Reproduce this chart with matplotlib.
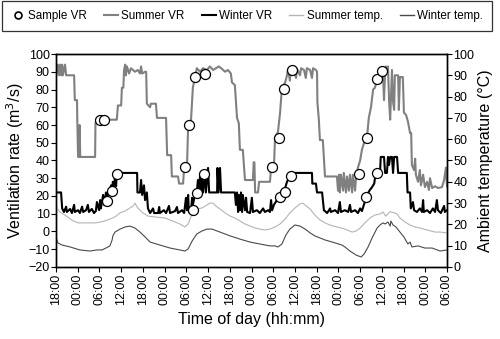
import matplotlib
matplotlib.use("Agg")
import matplotlib.pyplot as plt
from matplotlib.lines import Line2D

plt.rcParams['font.family'] = ['Liberation Sans', 'DejaVu Sans']

# time in hours from 18:00 of first day
tick_hours = list(range(0, 109, 6))
tick_labels = ["18:00", "00:00", "06:00", "12:00"] * 4 + ["18:00", "00:00", "06:00"]

summer_vr_t = [0, 0.5, 0.8, 1.1, 1.4, 1.7, 1.9, 2.5, 2.8, 5.0, 5.2, 5.8, 5.9, 6.1, 6.3, 6.5, 6.7,
               10.8, 10.9, 11.3, 16.8, 17.1, 18.0, 18.2, 18.6, 18.8, 19.1, 19.3, 19.6, 20.2, 20.7,
               21.8, 22.6, 23.2, 23.5, 23.8, 24.6, 24.9, 25.1, 26.0, 26.2, 27.6, 27.9, 30.4, 30.7,
               31.8, 32.0, 33.7, 34.0, 35.1, 35.4, 36.2, 36.5, 37.3, 37.8, 38.4, 38.9, 39.8, 40.6,
               41.7, 42.5, 43.4, 44.2, 45.0, 45.9, 46.7, 47.5, 48.3, 48.6, 49.4, 50.0, 50.5, 50.8,
               51.6, 52.2, 54.4, 54.6, 54.8, 55.0, 55.8, 56.1, 59.1, 59.4, 60.2, 60.5, 61.3, 61.9,
               62.4, 63.3, 63.8, 64.1, 64.6, 64.9, 65.7, 66.3, 66.6, 67.4, 67.7, 68.5, 69.0, 69.3,
               70.2, 70.7, 71.0, 71.8, 72.1, 72.2, 72.6, 72.9, 73.7, 74.3, 77.6, 77.9, 78.2, 78.4,
               78.7, 79.3, 79.5, 80.1, 80.4, 80.9, 81.2, 81.8, 82.0, 82.6, 82.9, 83.4, 84.0, 84.5,
               85.1, 85.9, 86.4, 87.0, 87.6, 88.1, 88.7, 89.2, 89.5, 90.0, 90.3, 90.6, 90.9, 91.1,
               91.4, 91.7, 92.0, 92.3, 92.5, 92.8, 93.1, 93.4, 93.6, 94.5, 94.7, 95.0, 95.8, 96.1,
               96.7, 97.2, 97.8, 98.1, 98.3, 98.9, 99.2, 99.4, 100.0, 100.5, 100.8, 101.4, 101.9,
               102.5, 103.0, 103.3, 103.9, 104.7, 105.5, 106.6, 107.2, 107.7, 108]
summer_vr = [88, 94, 88, 94, 88, 94, 88, 94, 88, 88, 74, 74, 61, 42, 42, 60, 42,
             42, 61, 63, 63, 71, 71, 81, 81, 91, 94, 88, 93, 89, 92,
             90, 91, 89, 93, 89, 90, 90, 72, 70, 72, 72, 64, 64, 43,
             43, 31, 31, 27, 27, 36, 37.5, 60, 63, 81, 87, 92, 90, 92,
             91, 93, 91, 92, 93, 91.5, 90, 91, 89, 84, 82.5, 64, 61, 46,
             46, 29, 29, 39, 39, 22, 22, 28, 28, 36, 36, 53, 56, 67,
             81, 84, 88, 91.5, 85, 92, 91, 86.5, 91.5, 88, 92, 91, 86.5, 92,
             91, 86.5, 92, 91, 90, 73, 63, 51.5, 51.5, 31, 31, 23, 32, 22,
             32, 23, 33, 22, 31, 23, 32, 22, 32, 23, 31, 36, 40, 46,
             50, 53, 64, 70, 80, 81, 86, 88, 91, 92, 90, 74, 90, 93,
             92, 93, 74, 63, 74, 91, 73, 68.5, 88, 88, 68.5, 87, 87, 67,
             65.6, 62, 55.5, 55.5, 37.5, 34.6, 41, 32, 28, 34.6, 26, 32, 25,
             28, 23.4, 30, 24.5, 25.5, 24.5, 25, 29, 36, 25.5]

winter_vr_t = [0, 1.4, 1.7, 2.2, 2.8, 3.0, 3.9, 4.4, 5.0, 5.2, 6.1, 6.6, 7.2, 7.5, 8.3, 8.8, 9.1,
               9.9, 10.5, 11.0, 11.3, 11.9, 12.2, 12.4, 13.0, 13.3, 13.8, 14.1, 14.4, 14.9, 15.2,
               15.5, 15.7, 16.0, 16.3, 16.6, 16.8, 22.4, 22.5, 23.2, 23.5, 23.8, 24.3, 24.6, 25.1,
               25.4, 26.0, 26.8, 27.1, 28.2, 28.5, 28.7, 29.8, 30.4, 31.2, 31.5, 32.9, 33.4, 33.7,
               34.8, 35.4, 35.9, 36.2, 36.5, 36.7, 37.3, 37.6, 37.8, 38.4, 38.9, 39.2, 39.5, 39.8,
               40.0, 40.3, 40.6, 41.2, 41.4, 42.0, 42.3, 44.5, 44.6, 44.9, 45.3, 45.6, 49.4, 49.7,
               50.0, 50.3, 50.5, 50.8, 51.1, 51.4, 51.6, 52.2, 52.5, 52.8, 53.6, 54.1, 54.4, 55.5,
               56.3, 57.2, 57.7, 58.6, 59.1, 59.4, 59.7, 60.2, 61.0, 61.9, 62.7, 63.3, 63.8, 64.6,
               65.2, 65.5, 70.7, 70.8, 71.8, 72.1, 73.5, 74.0, 74.9, 75.7, 75.9, 77.1, 77.9, 78.4,
               78.7, 79.8, 80.7, 81.2, 81.5, 82.6, 83.4, 84.0, 84.5, 85.3, 85.9, 86.2, 86.7, 87.3,
               87.9, 88.1, 88.9, 89.5, 89.7, 90.6, 90.9, 91.4, 91.7, 92.0, 92.3, 92.8, 93.1, 93.4,
               94.2, 94.5, 96.9, 97.1, 97.8, 98.0, 98.6, 98.9, 99.7, 100.5, 101.1, 101.4, 101.6,
               102.5, 103.3, 104.1, 104.7, 105.2, 105.5, 106.3, 107.2, 107.4, 108]
winter_vr = [22, 22, 13, 11, 14, 11, 12.7, 10.4, 15, 11, 12, 10.4, 14, 11, 12, 15, 11,
             12.7, 10.4, 11.5, 16.6, 12, 17.7, 13, 20.6, 15, 22, 17.7, 22, 23.4, 26,
             20, 28, 24.5, 31, 25.6, 33, 33, 22, 22, 29, 20.6, 26, 17.7, 22,
             13, 10.4, 13, 10.4, 10.4, 13.8, 10.4, 12, 10.4, 14.4, 10.4, 11.5, 13.8, 10.4,
             12, 10.4, 19, 12, 20.6, 11, 12, 19, 15, 20.6, 22, 29, 22, 32,
             23.4, 30, 22, 33, 22, 35.8, 22, 22, 35.8, 22, 35.8, 22, 22, 15,
             22, 11, 20.6, 12, 22, 11, 20.6, 12, 19, 11, 10.4, 19, 11, 12,
             10.4, 13, 11, 12, 11, 17.7, 12, 15, 17.7, 21.7, 23.4, 24.5, 28, 31,
             32, 33, 33, 27, 27, 22, 22, 12, 10.4, 13, 11, 12, 10.4, 16.6,
             11, 12, 11, 15, 11, 12, 10.4, 13, 11.5, 16.6, 20.6, 21.7, 23.4, 25,
             27, 30, 33, 33, 42, 42, 33, 33, 42, 37.5, 42, 42, 33, 42,
             42, 33, 33, 22, 22, 13, 16.6, 12, 11, 13, 11, 17.7, 11,
             12, 10.4, 13, 11, 17.7, 12, 10.4, 14.4, 11, 12]

summer_temp_t = [0, 1.1, 2.8, 4.4, 6.1, 8.0, 10.8, 12.2, 13.5, 14.9, 16.3, 17.7, 19.1, 20.4, 21.3,
                 21.8, 22.1, 22.6, 24.0, 25.4, 27.3, 30.1, 32.9, 34.2, 35.6, 36.5, 37.6, 38.9, 40.3,
                 41.7, 42.5, 43.4, 44.2, 45.3, 46.7, 48.1, 49.4, 50.8, 52.2, 53.6, 55.0, 56.3, 57.7,
                 59.1, 60.5, 61.9, 63.3, 64.6, 66.0, 67.4, 68.2, 68.8, 70.2, 71.5, 72.9, 74.3, 75.7,
                 77.6, 79.8, 81.8, 82.9, 84.0, 85.3, 86.7, 88.1, 89.5, 90.3, 91.1, 92.3, 93.4, 94.2,
                 95.0, 96.4, 97.8, 99.2, 100.5, 102.5, 104.7, 106.1, 108]
summer_temp = [28.2, 25.8, 24, 22, 20.7, 20.7, 20.7, 21.1, 21.6, 22.5, 23.5, 25.4, 26.3, 27.7, 28.6,
               30, 29.1, 27.7, 25.4, 23.9, 23.5, 23, 21.1, 20.2, 18.8, 20.2, 24.9, 27.2, 27.7,
               29.1, 30, 30, 28.6, 27.2, 25.4, 23.9, 23, 21.6, 20.2, 19.2, 18.3, 17.8, 17.4,
               17.8, 18.8, 20.2, 22.5, 25.4, 27.7, 29.6, 30, 29.1, 27.2, 24.4, 22.1, 20.7, 19.7,
               18.8, 17.8, 16.4, 16.9, 18.3, 20.7, 23, 24.4, 24.9, 25.8, 23.9, 26, 25.4, 24.9,
               23, 21.1, 19.7, 18.8, 18.3, 17.4, 16.4, 16.4, 16]

winter_temp_t = [0, 0.5, 1.7, 3.9, 6.6, 9.4, 11.3, 12.7, 13.8, 14.9, 15.5, 15.7, 16.3, 17.7, 19.1,
                 20.4, 21.8, 23.2, 24.6, 26.0, 28.7, 31.5, 34.2, 35.6, 36.5, 37.6, 38.9, 40.3, 41.7,
                 43.1, 44.5, 45.9, 48.1, 50.8, 53.6, 56.3, 59.1, 60.5, 61.3, 62.4, 63.5, 64.6, 66.0,
                 67.4, 68.8, 70.2, 71.5, 74.3, 77.1, 79.0, 79.8, 81.2, 82.9, 84.3, 85.1, 86.2, 87.3,
                 88.7, 89.5, 90.3, 90.9, 91.7, 92.3, 92.5, 93.1, 93.9, 95.0, 96.1, 97.2, 97.8, 98.3,
                 100.0, 101.9, 103.9, 106.1, 108]
winter_temp = [14.1, 11.3, 10.3, 9.4, 8, 7.5, 8, 8, 8.9, 9.9, 12.7, 14.6, 16.4, 17.8, 18.8,
               19.2, 18.3, 16.4, 14.1, 11.7, 10.3, 8.9, 8, 7.5, 8.5, 12.2, 15.5, 16.9, 17.8,
               17.8, 16.9, 16, 14.6, 13.1, 11.7, 10.8, 9.9, 9.9, 9.4, 10.8, 15, 17.8, 19.7,
               19.2, 17.8, 16, 14.6, 12.7, 11.3, 10.3, 9.4, 7.5, 5.6, 4.7, 6.1, 9.4, 13.6,
               18.3, 19.7, 20.7, 20.2, 21.1, 19.2, 21.6, 19.7, 18.8, 16.4, 14.1, 10.8, 11.7, 9.4,
               9.9, 8.9, 8.9, 7.5, 8]

sample_t = [12.15, 13.26, 14.1, 15.5, 16.8,
            35.6, 36.7, 38.4, 41.2, 37.8, 38.9, 40.9,
            59.7, 61.6, 63.0, 65.2, 61.9, 63.3, 64.9,
            83.7, 85.9, 88.7, 90.0, 85.6, 88.8]
sample_vr = [62.8, 62.8, 17.2, 22.8, 32.4,
             36.3, 60, 87, 88.7, 12.1, 21.7, 32.4,
             36.3, 52.4, 80.3, 91, 19.4, 22.3, 31.3,
             32.4, 52.7, 85.9, 90.7, 19.2, 32.7]

fig = plt.figure(figsize=(5.0, 3.39), dpi=100)
ax = fig.add_axes([0.112, 0.2124, 0.782, 0.6283])
ax2 = ax.twinx()

c_summer_vr = '#808080'
c_winter_vr = '#000000'
c_summer_t = '#b4b4b4'
c_winter_t = '#4a4a4a'

ax.plot(summer_vr_t, summer_vr, color=c_summer_vr, lw=1.5, zorder=2)
ax.plot(winter_vr_t, winter_vr, color=c_winter_vr, lw=1.5, zorder=3)
ax2.plot(summer_temp_t, summer_temp, color=c_summer_t, lw=0.8)
ax2.plot(winter_temp_t, winter_temp, color=c_winter_t, lw=0.8)
ax2.plot(sample_t, [(v + 20) / 1.2 for v in sample_vr], 'o', ms=7.2, mfc='white', mec='black',
         mew=0.9, zorder=5)

ax.set_xlim(0, 108)
ax.set_ylim(-20, 100)
ax2.set_ylim(0, 100)
ax.set_yticks(range(-20, 101, 10))
ax.set_yticklabels([f"{v}" if v >= 0 else f"\u2212{-v}" for v in range(-20, 101, 10)])
ax2.set_yticks(range(0, 101, 10))
ax.set_xticks(tick_hours)
ax.set_xticklabels(tick_labels, rotation=90, fontsize=9)

for a in (ax, ax2):
    a.tick_params(direction='out', length=3.5, width=0.8, labelsize=9, pad=1.5)
    for s in a.spines.values():
        s.set_linewidth(1.0)
ax.tick_params(axis='y', pad=1)
ax2.tick_params(axis='y', pad=1)

ax.set_ylabel("Ventilation rate (m$^3$/s)", fontsize=11.5, labelpad=2)
ax2.set_ylabel("Ambient temperature (\u00b0C)", fontsize=11.5, labelpad=3)
ax.set_xlabel("Time of day (hh:mm)", fontsize=11.5, labelpad=5)

handles = [
    Line2D([], [], ls='none', marker='o', ms=5, mfc='white', mec='black', mew=1.2),
    Line2D([], [], color=c_summer_vr, lw=1.5),
    Line2D([], [], color=c_winter_vr, lw=1.5),
    Line2D([], [], color=c_summer_t, lw=1.0),
    Line2D([], [], color=c_winter_t, lw=1.0),
]
labels = ["Sample VR", "Summer VR", "Winter VR", "Summer temp.", "Winter temp."]
leg = fig.legend(handles, labels, loc='upper left', bbox_to_anchor=(0.004, 0.997), ncol=5,
                 fontsize=8.4, frameon=True, fancybox=False, edgecolor='black',
                 handlelength=1.2, handletextpad=0.3, columnspacing=1.45, borderpad=0.75,
                 borderaxespad=0)
leg.get_frame().set_linewidth(0.9)

fig.savefig("out.png", dpi=100)
